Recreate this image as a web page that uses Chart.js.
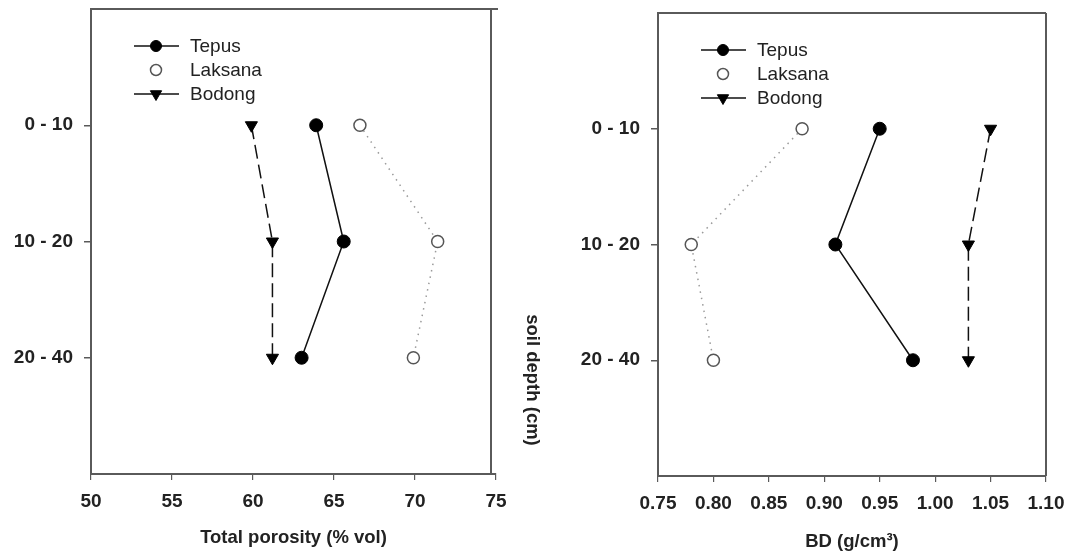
<!DOCTYPE html>
<html><head><meta charset="utf-8">
<script src="https://cdn.jsdelivr.net/npm/chart.js@4.4.1/dist/chart.umd.min.js"></script>
<style>
html,body{margin:0;padding:0;background:#fff;width:1070px;height:558px;overflow:hidden}
.panel{position:absolute;top:0}
</style></head><body>
<div class="panel" style="left:0;width:510px;height:558px"><canvas id="c1" width="510" height="558"></canvas></div>
<div class="panel" style="left:510px;width:560px;height:558px"><canvas id="c2" width="560" height="558"></canvas></div>
<script>
// ---- data ----
const depthLabels = ['0 - 10', '10 - 20', '20 - 40'];
const seriesNames = ['Tepus', 'Laksana', 'Bodong'];
const porosityTepus = [63.9, 65.6, 63.0];
const porosityLaksana = [66.6, 71.4, 69.9];
const porosityBodong = [59.9, 61.2, 61.2];
const bdTepus = [0.95, 0.91, 0.98];
const bdLaksana = [0.88, 0.78, 0.80];
const bdBodong = [1.05, 1.03, 1.03];
const porosityTicks = [50, 55, 60, 65, 70, 75];
const bdTicks = [0.75, 0.80, 0.85, 0.90, 0.95, 1.00, 1.05, 1.10];
const porosityTitle = 'Total porosity (% vol)';
const bdTitle = 'BD (g/cm³)';
const depthTitle = 'soil depth (cm)';

// ---- styles ----
const FONT = '"Liberation Sans", Arial, Helvetica, sans-serif';
const AXIS = '#5a5a5a';
const TEXT = '#222';
const styles = {
  Tepus:   {borderColor:'#111', borderWidth:1.5, borderDash:[], pointStyle:'circle', pointRadius:6.5, pointBackgroundColor:'#000', pointBorderColor:'#000', pointBorderWidth:1, legendLine:true},
  Laksana: {borderColor:'#9a9a9a', borderWidth:1.5, borderDash:[1.5,5], pointStyle:'circle', pointRadius:6, pointBackgroundColor:'#fff', pointBorderColor:'#555', pointBorderWidth:1.5, legendLine:false},
  Bodong:  {borderColor:'#111', borderWidth:1.5, borderDash:[14,6], pointStyle:'triangle', pointRotation:180, pointRadius:7, pointBackgroundColor:'#000', pointBorderColor:'#000', pointBorderWidth:1, legendLine:true}
};

function makeDataset(name, values) {
  return Object.assign({
    label: name,
    data: values.map((v, i) => ({x: v, y: i})),
    showLine: true, tension: 0, fill: false, clip: false
  }, styles[name]);
}

// ---- plugins ----
const framePlugin = {
  id: 'frame',
  afterDraw(chart, args, o) {
    const {ctx, chartArea: a} = chart;
    ctx.save();
    ctx.strokeStyle = AXIS; ctx.lineWidth = 2; ctx.setLineDash([]);
    ctx.beginPath();
    ctx.moveTo(a.left, a.top); ctx.lineTo(a.right + (o.topExtend || 0), a.top);
    ctx.moveTo(a.right - (o.rightInset || 0), a.top); ctx.lineTo(a.right - (o.rightInset || 0), a.bottom);
    ctx.stroke();
    ctx.restore();
  }
};

function drawMarker(ctx, ds, x, y, r) {
  ctx.save();
  ctx.setLineDash([]);
  ctx.fillStyle = ds.pointBackgroundColor;
  ctx.strokeStyle = ds.pointBorderColor;
  ctx.lineWidth = ds.pointBorderWidth;
  ctx.beginPath();
  if (ds.pointStyle === 'triangle') {
    const w = r * 0.866;
    ctx.moveTo(x - w, y - r * 0.5);
    ctx.lineTo(x + w, y - r * 0.5);
    ctx.lineTo(x, y + r);
    ctx.closePath();
  } else {
    ctx.arc(x, y, r, 0, Math.PI * 2);
  }
  ctx.fill(); ctx.stroke();
  ctx.restore();
}

const lineLegendPlugin = {
  id: 'lineLegend',
  afterDraw(chart, args, o) {
    const {ctx, chartArea: a} = chart;
    ctx.save();
    chart.data.datasets.forEach((ds, i) => {
      const y = a.top + o.rowY[i];
      if (ds.legendLine) {
        ctx.beginPath(); ctx.setLineDash([]);
        ctx.strokeStyle = '#111'; ctx.lineWidth = 1.5;
        ctx.moveTo(a.left + o.lineX0, y); ctx.lineTo(a.left + o.lineX1, y); ctx.stroke();
      }
      drawMarker(ctx, ds, a.left + o.markerX, y, ds.pointStyle === 'triangle' ? 6.5 : 5.5);
      ctx.fillStyle = TEXT;
      ctx.font = '19px ' + FONT;
      ctx.textAlign = 'left'; ctx.textBaseline = 'middle';
      ctx.fillText(ds.label, a.left + o.textX, y + 1);
    });
    ctx.restore();
  }
};

const sideTitlePlugin = {
  id: 'sideTitle',
  afterDraw(chart, args, o) {
    if (!o.text) return;
    const ctx = chart.ctx;
    ctx.save();
    ctx.translate(o.x, o.y);
    ctx.rotate(Math.PI / 2);
    ctx.fillStyle = TEXT;
    ctx.font = 'bold 18.5px ' + FONT;
    ctx.textAlign = 'center'; ctx.textBaseline = 'middle';
    ctx.fillText(o.text, 0, 0);
    ctx.restore();
  }
};

function makeOptions(cfg) {
  const tickFont = {family: FONT, size: 19, weight: 'bold'};
  return {
    responsive: false, animation: false, devicePixelRatio: 1,
    layout: {padding: {left: 0, top: cfg.top, right: cfg.padRight, bottom: 0}},
    plugins: {
      legend: {display: false}, tooltip: {enabled: false},
      frame: {rightInset: cfg.rightInset, topExtend: cfg.topExtend},
      lineLegend: {rowY: [37, 61, 85], lineX0: 43, lineX1: 88, markerX: 65, textX: 99},
      sideTitle: cfg.side || {}
    },
    scales: {
      x: {
        type: 'linear', position: 'bottom', min: cfg.xTicks[0], max: cfg.xTicks[cfg.xTicks.length - 1],
        afterBuildTicks: s => { s.ticks = cfg.xTicks.map(v => ({value: v})); },
        afterFit: s => { s.height = cfg.xHeight; s.paddingLeft = 0; s.paddingRight = 0; },
        ticks: {callback: cfg.fmt, font: tickFont, color: TEXT, padding: 10, maxRotation: 0, autoSkip: false},
        grid: {drawOnChartArea: false, drawTicks: true, tickLength: 6, color: AXIS, lineWidth: 1.2},
        border: {display: true, color: AXIS, width: 2},
        title: {display: true, text: cfg.xTitle, color: TEXT, font: {family: FONT, size: 18.5, weight: 'bold'}, padding: {top: 0, bottom: cfg.titlePad}}
      },
      y: {
        type: 'linear', position: 'left', reverse: true, min: -1, max: 3,
        afterBuildTicks: s => { s.ticks = depthLabels.map((_, i) => ({value: i})); },
        afterFit: s => { s.width = cfg.yWidth; s.paddingTop = 0; s.paddingBottom = 0; },
        ticks: {callback: v => depthLabels[v], font: tickFont, color: TEXT, padding: 11, autoSkip: false},
        grid: {drawOnChartArea: false, drawTicks: true, tickLength: 7, color: AXIS, lineWidth: 1.5},
        border: {display: true, color: AXIS, width: 2}
      }
    }
  };
}

new Chart(document.getElementById('c1'), {
  type: 'scatter',
  data: {datasets: [
    makeDataset(seriesNames[0], porosityTepus),
    makeDataset(seriesNames[1], porosityLaksana),
    makeDataset(seriesNames[2], porosityBodong)
  ]},
  options: makeOptions({top: 9, padRight: 14, xHeight: 84, yWidth: 91, xTicks: porosityTicks,
    fmt: v => String(v), xTitle: porosityTitle, titlePad: 9, rightInset: 5, topExtend: 2}),
  plugins: [framePlugin, lineLegendPlugin, sideTitlePlugin]
});

new Chart(document.getElementById('c2'), {
  type: 'scatter',
  data: {datasets: [
    makeDataset(seriesNames[0], bdTepus),
    makeDataset(seriesNames[1], bdLaksana),
    makeDataset(seriesNames[2], bdBodong)
  ]},
  options: makeOptions({top: 13, padRight: 24, xHeight: 82, yWidth: 148, xTicks: bdTicks,
    fmt: v => Number(v).toFixed(2), xTitle: bdTitle, titlePad: 5, rightInset: 0, topExtend: 0,
    side: {text: depthTitle, x: 22, y: 380}}),
  plugins: [framePlugin, lineLegendPlugin, sideTitlePlugin]
});
</script>
</body></html>
